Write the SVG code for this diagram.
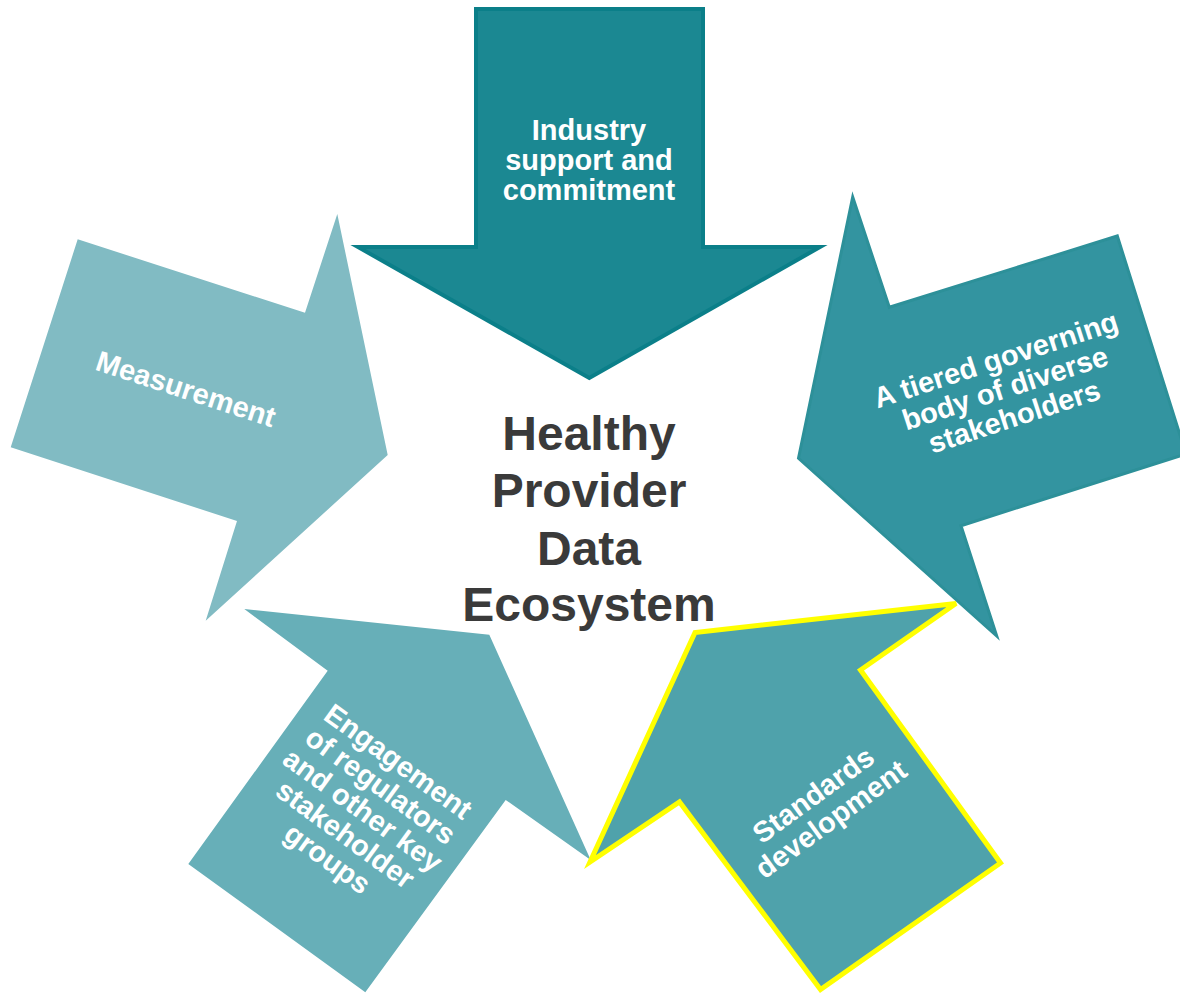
<svg xmlns="http://www.w3.org/2000/svg" width="1180" height="995" viewBox="0 0 1180 995">
<style>
.lbl{font-family:"Liberation Sans",Arial,sans-serif;font-weight:bold;font-size:29px;fill:#ffffff;text-anchor:middle}
.ctr{font-family:"Liberation Sans",Arial,sans-serif;font-weight:bold;font-size:48px;fill:#3a3a3a;text-anchor:middle}
</style>
<rect width="1180" height="995" fill="#ffffff"/>
<g id="connectors"></g>
<g id="measurement">
<polygon points="77.7,239.3 305,312.7 337.3,214 387.7,455 205.7,620.7 237,521 10.7,447.3" fill="#81bbc3"/>
<g transform="translate(186,389) rotate(18)"><text class="lbl" x="0" y="10">Measurement</text></g>
</g>
<g id="engagement">
<polygon points="244.3,609 489.3,634.7 590.7,860 505.7,800 365.3,992.3 188.3,864 327.7,670.7" fill="#67afb8"/>
<g transform="translate(363,810) rotate(36)"><text class="lbl" y="10"><tspan x="0" dy="-60">Engagement</tspan><tspan x="0" dy="30">of regulators</tspan><tspan x="0" dy="30">and other key</tspan><tspan x="0" dy="30">stakeholder</tspan><tspan x="0" dy="30">groups</tspan></text></g>
</g>
<g id="industry">
<polygon points="476,9 703,9 703,247 820,247 589.3,378 358,247 476,247" fill="#1b8892" stroke="#0b7f89" stroke-width="4"/>
<text class="lbl"><tspan x="589" y="140">Industry</tspan><tspan x="589" y="170">support and</tspan><tspan x="589" y="200">commitment</tspan></text>
</g>
<g id="governing">
<polygon points="852.7,197 889.3,307.3 1117.3,236 1186,454 961,525.7 996.7,636 798.5,458.3" fill="#3394a0" stroke="#2d9099" stroke-width="3"/>
<g transform="translate(1005,388) rotate(-18)"><text class="lbl" y="10"><tspan x="0" dy="-30">A tiered governing</tspan><tspan x="0" dy="30">body of diverse</tspan><tspan x="0" dy="30">stakeholders</tspan></text></g>
</g>
<g id="standards">
<polygon points="956,603.5 860.5,670 1000.5,863 820.5,989.5 679.5,802 590,862 695,632.5" fill="#4fa2ab" stroke="#ffff00" stroke-width="5"/>
<g transform="translate(822,807) rotate(-36)"><text class="lbl" y="10"><tspan x="0" dy="-15">Standards</tspan><tspan x="0" dy="30">development</tspan></text></g>
</g>
<g id="center">
<text class="ctr"><tspan x="589" y="450">Healthy</tspan><tspan x="589" y="507">Provider</tspan><tspan x="589" y="565">Data</tspan><tspan x="589" y="621">Ecosystem</tspan></text>
</g>
</svg>
